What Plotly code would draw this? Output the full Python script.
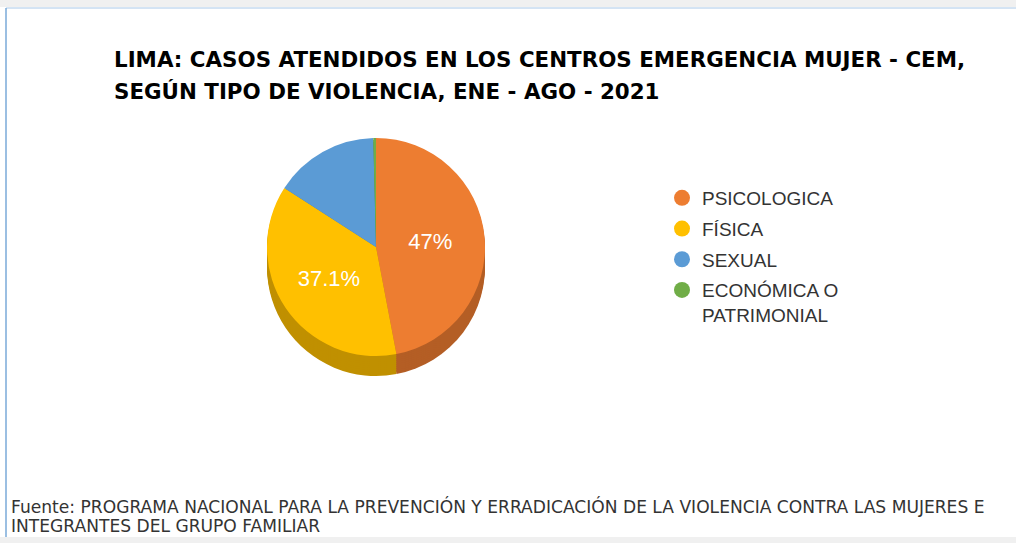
import plotly.graph_objects as go

categories = ["PSICOLOGICA", "FÍSICA", "SEXUAL", "ECONÓMICA O<br>PATRIMONIAL"]
values = [47.0, 37.1, 15.5, 0.4]
top_colors = ["#ED7D31", "#FFC000", "#5B9BD5", "#70AD47"]
side_colors = ["#B45E25", "#C09000", "#44749F", "#548235"]
title_lines = [
    "LIMA: CASOS ATENDIDOS EN LOS CENTROS EMERGENCIA MUJER - CEM,",
    "SEGÚN TIPO DE VIOLENCIA, ENE - AGO - 2021",
]
source_lines = [
    "Fuente: PROGRAMA NACIONAL PARA LA PREVENCIÓN Y ERRADICACIÓN DE LA VIOLENCIA CONTRA LAS MUJERES E",
    "INTEGRANTES DEL GRUPO FAMILIAR",
]

W, H = 1016, 543
cx, cy, d, depth = 376, 247, 218, 20


def dom(dy):
    x0 = (cx - d / 2) / W
    x1 = (cx + d / 2) / W
    y0 = 1 - (cy + d / 2 + dy) / H
    y1 = 1 - (cy - d / 2 + dy) / H
    return dict(x=[x0, x1], y=[y0, y1])


fig = go.Figure()

# side (depth) layers
for dy in range(depth, 0, -2):
    fig.add_trace(go.Pie(
        values=values, labels=categories, sort=False, direction="clockwise",
        marker=dict(colors=side_colors, line=dict(width=0)),
        textinfo="none", hoverinfo="skip", showlegend=False, domain=dom(dy),
    ))

# top face
fig.add_trace(go.Pie(
    values=values, labels=categories, sort=False, direction="clockwise",
    marker=dict(colors=top_colors, line=dict(width=0)),
    texttemplate=["%{percent}", "%{percent}", "", ""],
    textposition="inside", insidetextorientation="horizontal",
    textfont=dict(family="Liberation Sans, Arial", size=22, color="white"),
    showlegend=False, domain=dom(0),
))

# legend entries
for i, (c, col) in enumerate(zip(categories, top_colors)):
    fig.add_trace(go.Scatter(
        x=[None], y=[None], mode="markers", name=c,
        marker=dict(color=col, size=18, symbol="circle"),
        legendgroup=f"g{i}", showlegend=True,
    ))

annotations = []
for i, t in enumerate(title_lines):
    annotations.append(dict(
        text=f"<b>{t}</b>", xref="paper", yref="paper", x=112 / W, y=1 - (59 + 32 * i) / H,
        xanchor="left", yanchor="middle", showarrow=False,
        font=dict(family="DejaVu Sans", size=21.4, color="#000000"),
    ))
for i, t in enumerate(source_lines):
    annotations.append(dict(
        text=t, xref="paper", yref="paper", x=9 / W, y=1 - (507 + 19 * i) / H,
        xanchor="left", yanchor="middle", showarrow=False,
        font=dict(family="DejaVu Sans", size=17.1, color="#333333"),
    ))

shapes = [
    dict(type="rect", xref="paper", yref="paper", x0=0, x1=1, y0=1 - 7 / H, y1=1,
         fillcolor="#F0F0F0", line=dict(width=0), layer="below"),
    dict(type="line", xref="paper", yref="paper", x0=6 / W, x1=1, y0=1 - 8 / H, y1=1 - 8 / H,
         line=dict(color="#A9C8E8", width=1)),
    dict(type="line", xref="paper", yref="paper", x0=6 / W, x1=6 / W, y0=6 / H, y1=1 - 8 / H,
         line=dict(color="#7AAAD8", width=1.5)),
    dict(type="rect", xref="paper", yref="paper", x0=0, x1=1, y0=0, y1=6 / H,
         fillcolor="#F0F0F0", line=dict(width=0), layer="below"),
]

fig.update_layout(
    width=W, height=H,
    margin=dict(l=0, r=0, t=0, b=0),
    paper_bgcolor="white", plot_bgcolor="white",
    xaxis=dict(visible=False), yaxis=dict(visible=False),
    annotations=annotations, shapes=shapes,
    legend=dict(
        x=662 / W, y=1 - 179 / H, xanchor="left", yanchor="top", valign="top",
        font=dict(family="Liberation Sans, Arial", size=19, color="#333333"),
        traceorder="grouped", tracegroupgap=3, bgcolor="rgba(0,0,0,0)",
    ),
)

fig.write_html("out.html", config={"displayModeBar": False},
               post_script="document.body.style.margin='0';")
